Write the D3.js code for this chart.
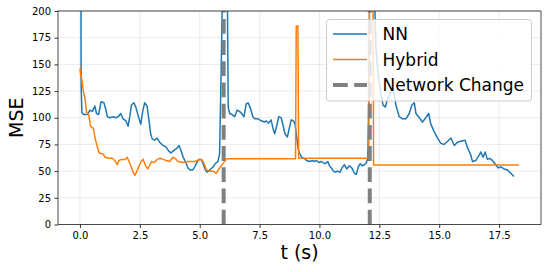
<!DOCTYPE html>
<html>
<head>
<meta charset="utf-8">
<script src="https://cdn.jsdelivr.net/npm/d3@7"></script>
<style>
  body { margin: 0; background: #fff; }
  svg { font-family: "DejaVu Sans", sans-serif; display: block; }
</style>
</head>
<body>
<div id="chart"></div>
<script>
// NN series (time in s, MSE)
var nnTime = [0.00, 0.05, 0.08, 0.15, 0.30, 0.42, 0.52, 0.62, 0.69, 0.78, 0.88, 1.00, 1.08, 1.14, 1.25, 1.40, 1.50, 1.60, 1.70, 1.80,
  1.92, 2.01, 2.08, 2.15, 2.25, 2.33, 2.43, 2.54, 2.62, 2.70, 2.80, 2.88, 2.95, 3.02, 3.12, 3.22, 3.33, 3.47, 3.58, 3.70,
  3.80, 3.90, 4.03, 4.14, 4.24, 4.31, 4.42, 4.51, 4.60, 4.70, 4.79, 4.88, 4.96, 5.07, 5.14, 5.22, 5.30, 5.38, 5.46, 5.56,
  5.65, 5.76, 5.83, 5.90, 5.96, 6.05, 6.15, 6.19, 6.25, 6.35, 6.46, 6.56, 6.66, 6.75, 6.85, 6.94, 7.02, 7.10, 7.22, 7.30,
  7.43, 7.50, 7.60, 7.70, 7.78, 7.88, 7.98, 8.06, 8.13, 8.22, 8.30, 8.40, 8.48, 8.56, 8.66, 8.74, 8.82, 8.92, 8.98, 9.06,
  9.12, 9.18, 9.26, 9.36, 9.46, 9.58, 9.70, 9.80, 9.88, 9.97, 10.06, 10.14, 10.24, 10.35, 10.42, 10.50, 10.58, 10.67, 10.76, 10.86,
  10.94, 11.04, 11.14, 11.25, 11.35, 11.46, 11.54, 11.62, 11.70, 11.78, 11.88, 11.96, 12.02, 12.06, 12.10, 12.20, 12.28, 12.36, 12.45, 12.55,
  12.65, 12.75, 12.85, 12.95, 13.03, 13.12, 13.19, 13.33, 13.47, 13.61, 13.75, 13.86, 13.96, 14.03, 14.17, 14.30, 14.44, 14.56, 14.65, 14.79,
  14.93, 15.07, 15.20, 15.35, 15.49, 15.63, 15.76, 15.90, 16.08, 16.18, 16.32, 16.39, 16.53, 16.67, 16.74, 16.83, 16.92, 17.01, 17.10, 17.22,
  17.36, 17.47, 17.57, 17.71, 17.85, 17.99, 18.12];
var nnMSE = [600, 130, 105, 103, 103, 107, 106, 111, 104, 103, 115, 114, 108, 101, 100, 101, 100, 101, 104, 99,
  97, 92, 101, 112, 114, 110, 102, 94, 106, 114, 111, 98, 85, 80, 79, 81, 77, 74, 73, 69,
  67, 69, 71, 74, 68, 63, 58, 53, 51, 51, 54, 58, 61, 61, 57, 52, 49, 50, 52, 54,
  57, 59, 66, 150, 230, 260, 230, 110, 104, 103, 101, 107, 106, 104, 101, 113, 114, 110, 101, 99,
  99, 98, 97, 96, 97, 95, 98, 90, 85, 93, 101, 100, 93, 85, 82, 90, 98, 97, 94, 80,
  70, 66, 63, 62, 60, 59, 60, 59, 60, 58, 59, 58, 57, 59, 55, 53, 50, 49, 50, 49,
  53, 56, 52, 55, 53, 48, 47, 54, 57, 55, 56, 58, 62, 120, 230, 260, 230, 165, 140, 125,
  112, 110, 118, 122, 128, 122, 112, 101, 99, 99, 104, 112, 114, 104, 100, 96, 100, 104, 94, 87,
  81, 76, 75, 78, 81, 74, 77, 78, 79, 72, 65, 59, 60, 65, 68, 63, 68, 61, 62, 60,
  56, 53, 54, 52, 51, 48, 45];

// Hybrid series
var hybTime = [0.00, 0.04, 0.07, 0.14, 0.21, 0.28, 0.37, 0.44, 0.56, 0.62, 0.72, 0.80, 0.97, 1.05, 1.20, 1.35, 1.45, 1.56, 1.62, 1.75,
  1.90, 1.97, 2.05, 2.14, 2.22, 2.29, 2.36, 2.45, 2.55, 2.64, 2.72, 2.82, 2.90, 2.99, 3.10, 3.22, 3.35, 3.47, 3.60, 3.75,
  3.88, 3.97, 4.10, 4.30, 4.50, 4.65, 4.80, 5.00, 5.12, 5.20, 5.28, 5.40, 5.56, 5.69, 5.80, 5.97, 6.12, 9.00, 9.03, 9.10,
  9.13, 12.06, 12.09, 12.23, 12.26, 18.33];
var hybMSE = [146, 138, 137, 125, 118, 105, 103, 92, 90, 82, 73, 67, 66, 63, 62, 62, 60, 56, 60, 61,
  61, 63, 59, 54, 49, 46, 49, 54, 59, 61, 56, 52, 55, 59, 58, 61, 62, 61, 60, 59,
  63, 62, 59, 58, 59, 59, 59, 61, 60, 56, 51, 50, 50, 48, 52, 57, 61.5, 61.5, 186, 186,
  62, 62, 260, 260, 55.7, 55.7];

var changeTimes = [6.0, 12.1];
var xTicks = [0, 2.5, 5, 7.5, 10, 12.5, 15, 17.5];
var yTicks = [0, 25, 50, 75, 100, 125, 150, 175, 200];
var legendLabels = ["NN", "Hybrid", "Network Change"];

var W = 548, H = 272;
var margin = { top: 11, right: 7, bottom: 47.5, left: 58 };
var width = W - margin.left - margin.right,
    height = H - margin.top - margin.bottom;

var svg = d3.select("#chart").append("svg")
    .attr("width", W)
    .attr("height", H);

var g = svg.append("g")
    .attr("transform", "translate(" + margin.left + "," + margin.top + ")");

var x = d3.scaleLinear().domain([-0.917, 19.25]).range([0, width]);
var y = d3.scaleLinear().domain([0, 200]).range([height, 0]);

// grid
g.append("g").selectAll("line").data(xTicks).enter().append("line")
    .attr("x1", function (d) { return x(d); }).attr("x2", function (d) { return x(d); })
    .attr("y1", 0).attr("y2", height)
    .style("stroke", "#b0b0b0").style("stroke-opacity", 0.3).style("stroke-width", 0.8);
g.append("g").selectAll("line").data(yTicks).enter().append("line")
    .attr("y1", function (d) { return y(d); }).attr("y2", function (d) { return y(d); })
    .attr("x1", 0).attr("x2", width)
    .style("stroke", "#b0b0b0").style("stroke-opacity", 0.3).style("stroke-width", 0.8);

g.append("clipPath").attr("id", "clip")
    .append("rect").attr("width", width).attr("height", height);

var plot = g.append("g").attr("clip-path", "url(#clip)");

var line = d3.line()
    .x(function (d) { return x(d[0]); })
    .y(function (d) { return y(d[1]); });

var nn = nnTime.map(function (t, i) { return [t, nnMSE[i]]; });
var hyb = hybTime.map(function (t, i) { return [t, hybMSE[i]]; });

plot.append("path").attr("d", line(nn))
    .style("fill", "none").style("stroke", "#1f77b4").style("stroke-width", 1.5)
    .style("stroke-linejoin", "round");
plot.append("path").attr("d", line(hyb))
    .style("fill", "none").style("stroke", "#ff7f0e").style("stroke-width", 1.5)
    .style("stroke-linejoin", "round");

plot.selectAll(".change").data(changeTimes).enter().append("line")
    .attr("class", "change")
    .attr("x1", function (d) { return x(d); }).attr("x2", function (d) { return x(d); })
    .attr("y1", height).attr("y2", 0)
    .style("stroke", "#808080").style("stroke-width", 4)
    .style("stroke-dasharray", "14.8,6.4");

// axes
var xAxis = d3.axisBottom(x).tickValues(xTicks).tickSizeOuter(0).tickSize(3.5)
    .tickFormat(d3.format(".1f"));
var yAxis = d3.axisLeft(y).tickValues(yTicks).tickSizeOuter(0).tickSize(3.5)
    .tickFormat(d3.format("d"));

var gx = g.append("g").attr("transform", "translate(0," + height + ")").call(xAxis);
var gy = g.append("g").call(yAxis);
[gx, gy].forEach(function (a) {
    a.select(".domain").remove();
    a.selectAll("line").style("stroke", "#000").style("stroke-width", 0.8);
    a.selectAll("text").style("font-size", "10px").style("fill", "#000")
        .style("font-family", "DejaVu Sans");
});
gx.selectAll("text").attr("y", 7);
gy.selectAll("text").attr("x", -7);

g.append("rect").attr("width", width).attr("height", height)
    .style("fill", "none").style("stroke", "#222").style("stroke-width", 0.8);

// labels
svg.append("text")
    .attr("x", margin.left + width / 2).attr("y", 259)
    .attr("text-anchor", "middle")
    .style("font-size", "19px")
    .text("t (s)");
svg.append("text")
    .attr("transform", "translate(23," + (margin.top + height / 2) + ") rotate(-90)")
    .attr("text-anchor", "middle")
    .style("font-size", "19px")
    .text("MSE");

// legend
var lg = svg.append("g").attr("transform", "translate(326.5,19.5)");
lg.append("rect").attr("width", 205).attr("height", 81.5).attr("rx", 3)
    .style("fill", "#fff").style("fill-opacity", 0.8)
    .style("stroke", "#cccccc").style("stroke-width", 1);
var legColors = ["#1f77b4", "#ff7f0e", "#808080"];
var legWidths = [1.5, 1.5, 4];
legendLabels.forEach(function (lab, i) {
    var yy = 14.5 + i * 25.5;
    var l = lg.append("line").attr("x1", 6.5).attr("x2", 40.5).attr("y1", yy).attr("y2", yy)
        .style("stroke", legColors[i]).style("stroke-width", legWidths[i]);
    if (i === 2) l.style("stroke-dasharray", "14.8,6.4");
    lg.append("text").attr("x", 56).attr("y", yy).attr("dy", "0.36em")
        .style("font-size", "17px").text(lab);
});
</script>
</body>
</html>
